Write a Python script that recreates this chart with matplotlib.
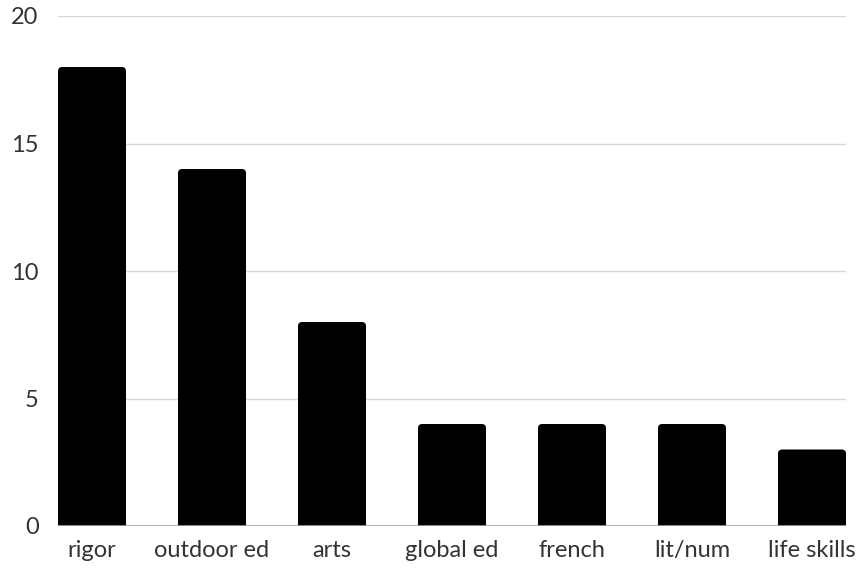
import matplotlib.pyplot as plt
from matplotlib.patches import FancyBboxPatch

categories = ["rigor", "outdoor ed", "arts", "global ed", "french", "lit/num", "life skills"]
counts = [18, 14, 8, 4, 4, 4, 3]
y_ticks = [0, 5, 10, 15, 20]

plt.rcParams['font.family'] = ['Lato', 'DejaVu Sans']

fig = plt.figure(figsize=(8.62, 5.69), dpi=100)
ax = fig.add_axes([58 / 862, 43 / 569, 788 / 862, 510 / 569])

width = 68 / 120
xs = range(len(categories))
bars = ax.bar(xs, counts, width=width, color='none')

ax.set_xlim(-width / 2, len(categories) - 1 + width / 2)
ax.set_ylim(0, 20)

# rounded-top bars: rounded boxes pushed below zero so the bottom corners get clipped
x_px = 788 / (len(categories) - 1 + width)
y_px = 510 / 20
aspect = x_px / y_px
for b in bars:
    x0 = b.get_x()
    h = b.get_height()
    patch = FancyBboxPatch((x0, -1), b.get_width(), h + 1,
                           boxstyle="round,pad=0,rounding_size=0.035",
                           mutation_aspect=aspect, facecolor='black',
                           edgecolor='none', zorder=3)
    ax.add_patch(patch)

ax.set_yticks(y_ticks)
ax.set_xticks(list(xs))
ax.set_xticklabels(categories)
ax.grid(axis='y', color='#d9d9d9', linewidth=1, zorder=0)
ax.axhline(0, color='#a6a6a6', linewidth=1.2, zorder=4)

for s in ax.spines.values():
    s.set_visible(False)
ax.tick_params(length=0, labelsize=17, labelcolor='#333333')
ax.tick_params(axis='y', pad=14)
ax.tick_params(axis='x', pad=10)

fig.savefig("out.png", dpi=100)
